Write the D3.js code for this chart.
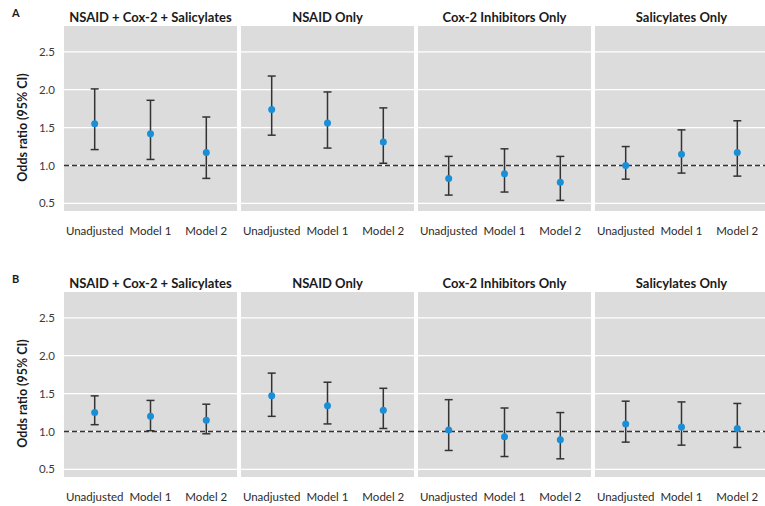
<!DOCTYPE html>
<html>
<head>
<meta charset="utf-8">
<title>Odds ratios</title>
<style>
  body { margin: 0; padding: 0; background: white; font-family: Lato, "Open Sans", sans-serif; }
  .strip { font-weight: bold; font-size: 13px; fill: #1a1a1a; }
  .tick-y { font-size: 11.5px; fill: #3a3a3a; }
  .tick-x { font-size: 11.5px; fill: #2a2a2a; }
  .ylab { font-weight: bold; font-size: 12.5px; fill: #1a1a1a; }
  .letter { font-weight: bold; font-size: 11px; fill: #1a1a1a; }
</style>
</head>
<body>
<div id="chart"></div>
<script src="https://d3js.org/d3.v7.min.js"></script>
<script>
var models = ["Unadjusted", "Model 1", "Model 2"];
var groups = ["NSAID + Cox-2 + Salicylates", "NSAID Only", "Cox-2 Inhibitors Only", "Salicylates Only"];
var yTicks = [0.5, 1.0, 1.5, 2.0, 2.5];
var panelLetters = ["A", "B"];

// panel A: [odds ratio, lower, upper] per group, per model
var orA = [[1.55, 1.42, 1.17], [1.74, 1.56, 1.31], [0.83, 0.89, 0.78], [1.00, 1.15, 1.17]];
var loA = [[1.21, 1.08, 0.83], [1.40, 1.23, 1.03], [0.61, 0.65, 0.54], [0.82, 0.90, 0.86]];
var hiA = [[2.01, 1.86, 1.64], [2.18, 1.97, 1.76], [1.12, 1.22, 1.12], [1.25, 1.47, 1.59]];

// panel B
var orB = [[1.25, 1.20, 1.15], [1.47, 1.34, 1.28], [1.02, 0.93, 0.89], [1.10, 1.06, 1.04]];
var loB = [[1.09, 1.01, 0.97], [1.20, 1.10, 1.04], [0.75, 0.67, 0.64], [0.86, 0.82, 0.79]];
var hiB = [[1.47, 1.41, 1.36], [1.77, 1.65, 1.57], [1.42, 1.31, 1.25], [1.40, 1.39, 1.37]];

var width = 765, height = 506;
var svg = d3.select("#chart").append("svg")
    .attr("width", width)
    .attr("height", height);

var panelW = 173, gap = 4, left0 = 64, panelH = 185;

function drawBlock(top, letter, or, lo, hi) {
    var g = svg.append("g").attr("transform", "translate(0," + top + ")");

    var y = d3.scaleLinear().domain([0.4, 2.84]).range([panelH, 0]);

    g.append("text").attr("class", "letter")
        .attr("x", 12).attr("y", -9)
        .text(letter);

    // y tick labels
    g.selectAll(".tick-y").data(yTicks).enter().append("text")
        .attr("class", "tick-y")
        .attr("x", 55).attr("y", function (d) { return y(d); })
        .attr("dy", "0.35em").attr("text-anchor", "end")
        .text(function (d) { return d3.format(".1f")(d); });

    g.append("text").attr("class", "ylab")
        .attr("transform", "translate(27," + (panelH / 2 + 9) + ") rotate(-90)")
        .attr("text-anchor", "middle")
        .text("Odds ratio (95% CI)");

    groups.forEach(function (name, i) {
        var px = left0 + i * (panelW + gap);
        var p = g.append("g").attr("transform", "translate(" + px + ",0)");
        var x = d3.scalePoint().domain(models).range([0, panelW]).padding(0.55);

        p.append("rect").attr("width", panelW).attr("height", panelH).attr("fill", "#dcdcdd");

        p.selectAll(".grid").data(yTicks).enter().append("line")
            .attr("x1", 0).attr("x2", panelW)
            .attr("y1", function (d) { return y(d); })
            .attr("y2", function (d) { return y(d); })
            .attr("stroke", "white").attr("stroke-width", 1.2);

        p.append("line")
            .attr("x1", 0).attr("x2", panelW)
            .attr("y1", y(1)).attr("y2", y(1))
            .attr("stroke", "#333").attr("stroke-width", 1.3)
            .attr("stroke-dasharray", "5,3");

        p.append("text").attr("class", "strip")
            .attr("x", panelW / 2).attr("y", -4)
            .attr("text-anchor", "middle")
            .text(name);

        var rows = models.map(function (m, j) {
            return { m: m, or: or[i][j], lo: lo[i][j], hi: hi[i][j] };
        });

        var eb = p.selectAll(".eb").data(rows).enter().append("g");
        eb.append("line")
            .attr("x1", function (d) { return x(d.m); })
            .attr("x2", function (d) { return x(d.m); })
            .attr("y1", function (d) { return y(d.lo); })
            .attr("y2", function (d) { return y(d.hi); })
            .attr("stroke", "#333").attr("stroke-width", 1.5);
        eb.append("line")
            .attr("x1", function (d) { return x(d.m) - 4; })
            .attr("x2", function (d) { return x(d.m) + 4; })
            .attr("y1", function (d) { return y(d.lo); })
            .attr("y2", function (d) { return y(d.lo); })
            .attr("stroke", "#333").attr("stroke-width", 1.5);
        eb.append("line")
            .attr("x1", function (d) { return x(d.m) - 4; })
            .attr("x2", function (d) { return x(d.m) + 4; })
            .attr("y1", function (d) { return y(d.hi); })
            .attr("y2", function (d) { return y(d.hi); })
            .attr("stroke", "#333").attr("stroke-width", 1.5);
        eb.append("circle")
            .attr("cx", function (d) { return x(d.m); })
            .attr("cy", function (d) { return y(d.or); })
            .attr("r", 3.5)
            .attr("fill", "#1a8fd8");

        p.selectAll(".tick-x").data(models).enter().append("text")
            .attr("class", "tick-x")
            .attr("x", function (d) { return x(d); })
            .attr("y", panelH + 24)
            .attr("text-anchor", "middle")
            .text(function (d) { return d; });
    });
}

drawBlock(26, panelLetters[0], orA, loA, hiA);
drawBlock(292, panelLetters[1], orB, loB, hiB);
</script>
</body>
</html>
